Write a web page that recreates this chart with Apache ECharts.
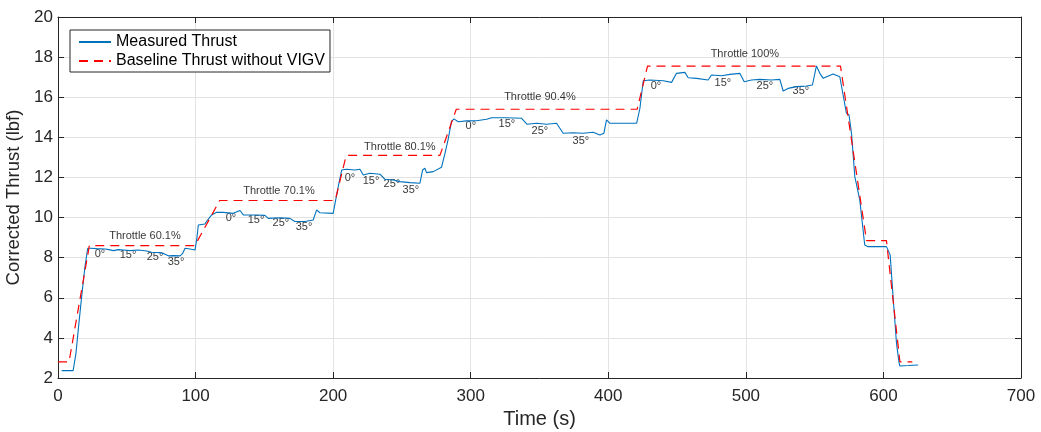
<!DOCTYPE html>
<html>
<head>
<meta charset="utf-8">
<script src="https://cdn.jsdelivr.net/npm/echarts@6/dist/echarts.min.js"></script>
<style>
html,body{margin:0;padding:0;background:#fff;}
#c{width:1041px;height:432px;}
</style>
</head>
<body>
<div id="c"></div>
<script>
// ---- Data ----
const measuredTime = [2.7,11,13,15,17.2,19.5,21.6,23.3,28,34.2,37,40.2,44,47.5,52.3,58.4,64.5,68,74.1,77,80.2,84,88.7,90.5,92.3,95.9,99.6,101,102,106.8,109,111.7,115.3,120.1,127.4,132.3,134.7,144.4,150.4,152.8,161.3,168.6,172.2,179.5,185.5,188,190.4,200,201.3,203.7,206.2,209.8,215.8,219.5,221.9,226.7,234,237.6,243.7,248.5,255.8,263.1,265,266.7,267.9,272.8,278.8,281.3,283.6,286,287.8,290.9,297,304.2,311.5,315.2,326,337,341,347.9,355.1,362.4,367.2,374.5,381.8,389,393.9,396.8,398.7,401.2,408.4,420.6,423,425.4,430.2,440,446,449.6,455.7,458.1,464.2,472.6,475,482.3,488.4,495.6,498.8,504.1,510.2,518.6,524.7,527.1,530.7,536.8,544.1,548.4,551.3,553.8,556.2,563.4,568.3,573.1,575,576.8,579.2,582.8,586.4,588.9,602.2,604.9,607,609.5,611.4,611.9,618,625.2];
const measuredThrust = [2.37,2.37,3.2,4.6,6.06,7.5,8.47,8.47,8.45,8.43,8.4,8.35,8.4,8.38,8.35,8.38,8.33,8.27,8.25,8.2,8.09,8.1,8.09,8.2,8.47,8.43,8.38,9.0,9.63,9.68,9.9,10.13,10.26,10.26,10.21,10.35,10.13,10.13,10.11,9.96,9.99,9.96,9.8,9.8,9.88,10.38,10.24,10.21,10.24,11.54,12.37,12.41,12.37,12.41,12.12,12.21,12.16,11.91,11.87,11.79,11.74,11.71,12.37,12.46,12.24,12.29,12.51,13.2,13.9,14.78,14.92,14.78,14.82,14.83,14.9,14.98,14.98,14.95,14.65,14.7,14.65,14.7,14.2,14.23,14.2,14.25,14.12,14.2,14.87,14.7,14.7,14.7,15.45,16.82,16.86,16.82,16.74,17.19,17.24,16.97,16.94,16.86,17.11,17.07,17.14,17.19,16.77,16.86,16.89,16.86,16.89,16.31,16.44,16.53,16.56,16.61,17.56,17.19,16.94,17.16,17.02,15.2,15.11,14.2,12.04,10.88,8.63,8.55,8.55,8.14,6.06,3.73,2.74,2.6,2.62,2.65];

const baselineTime   = [0,8,22.8,99.5,117.5,201.5,209.5,277.6,289.5,421,428.5,568.8,587.7,602.2,612,621];
const baselineThrust = [2.8,2.8,8.6,8.6,10.85,10.85,13.1,13.1,15.4,15.4,17.55,17.55,8.85,8.85,2.8,2.8];

const throttleLabels = ['Throttle 60.1%','Throttle 70.1%','Throttle 80.1%','Throttle 90.4%','Throttle 100%'];
const throttleLabelTime = [63.2,160.6,248.5,350.3,499.3];
const throttleLabelThrust = [9.08,11.33,13.52,16.01,18.16];

const angleLabels = ['0°','15°','25°','35°','0°','15°','25°','35°','0°','15°','25°','35°','0°','15°','25°','35°','0°','15°','25°','35°'];
const angleLabelTime = [30.5,50.9,70.5,85.8,125.7,143.9,162,178.8,212.2,227.5,242.7,256.5,300.1,326.3,350.3,380.1,434.6,483.3,513.8,540];
const angleLabelThrust = [8.19,8.14,8.04,7.79,9.98,9.88,9.73,9.53,11.97,11.82,11.67,11.38,14.57,14.67,14.32,13.82,16.56,16.71,16.56,16.31];

const xTicks = [0,100,200,300,400,500,600,700];
const yTicks = [2,4,6,8,10,12,14,16,18,20];

// ---- Build ----
const zip = (a,b) => a.map((v,i)=>[v,b[i]]);
const textData = (names,xs,ys) => names.map((n,i)=>({name:n,value:[xs[i],ys[i]]}));
const axisColor = '#262626';
const font = 'Liberation Sans, Arial, Helvetica, sans-serif';

const chart = echarts.init(document.getElementById('c'), null, {renderer:'canvas'});
chart.setOption({
  animation:false,
  backgroundColor:'#fff',
  textStyle:{fontFamily:font},
  grid:{left:58,right:20,top:17,bottom:54,containLabel:false,outerBoundsMode:'none'},
  xAxis:[{
    type:'value',min:xTicks[0],max:xTicks[xTicks.length-1],interval:100,
    name:'Time (s)',nameLocation:'middle',nameGap:30,
    nameTextStyle:{fontSize:20,color:axisColor,fontFamily:font},
    axisLine:{show:true,onZero:false,lineStyle:{color:axisColor,width:1}},
    axisTick:{show:true,inside:true,length:6,lineStyle:{color:axisColor}},
    axisLabel:{fontSize:17,color:axisColor,margin:10,fontFamily:font},
    splitLine:{show:true,lineStyle:{color:'#e3e3e3',width:1}}
  },{
    type:'value',position:'top',min:0,max:700,interval:100,
    axisLine:{show:true,onZero:false,lineStyle:{color:axisColor,width:1}},
    axisTick:{show:true,inside:true,length:6,lineStyle:{color:axisColor}},
    axisLabel:{show:false},splitLine:{show:false}
  }],
  yAxis:[{
    type:'value',min:yTicks[0],max:yTicks[yTicks.length-1],interval:2,
    name:'Corrected Thrust (lbf)',nameLocation:'middle',nameGap:27,nameRotate:90,
    nameTextStyle:{fontSize:18.5,color:axisColor,fontFamily:font},
    axisLine:{show:true,onZero:false,lineStyle:{color:axisColor,width:1}},
    axisTick:{show:true,inside:true,length:6,lineStyle:{color:axisColor}},
    axisLabel:{fontSize:17,color:axisColor,margin:5,fontFamily:font},
    splitLine:{show:true,lineStyle:{color:'#e3e3e3',width:1}}
  },{
    type:'value',position:'right',min:2,max:20,interval:2,
    axisLine:{show:true,onZero:false,lineStyle:{color:axisColor,width:1}},
    axisTick:{show:true,inside:true,length:6,lineStyle:{color:axisColor}},
    axisLabel:{show:false},splitLine:{show:false}
  }],
  legend:{
    data:['Measured Thrust','Baseline Thrust without VIGV'],
    orient:'vertical',left:70,top:30,
    backgroundColor:'#fff',borderColor:axisColor,borderWidth:1,borderRadius:0,
    padding:[4,5,3,8],itemGap:3,itemWidth:32,itemHeight:12,
    itemStyle:{opacity:0},
    textStyle:{fontSize:16,color:'#000',fontFamily:font}
  },
  series:[{
    name:'Measured Thrust',type:'line',data:zip(measuredTime,measuredThrust),
    symbol:'none',smooth:false,
    lineStyle:{color:'#0072BD',width:1.1},itemStyle:{color:'#0072BD'},z:3
  },{
    name:'Baseline Thrust without VIGV',type:'line',data:zip(baselineTime,baselineThrust),
    symbol:'none',
    lineStyle:{color:'#FF0000',width:1.2,type:[9,6]},itemStyle:{color:'#FF0000'},z:4
  },{
    name:'throttle',type:'scatter',symbolSize:0,silent:true,
    data:textData(throttleLabels,throttleLabelTime,throttleLabelThrust),
    label:{show:true,position:'inside',formatter:p=>p.name,fontSize:11,color:'#000',fontFamily:font}
  },{
    name:'angles',type:'scatter',symbolSize:0,silent:true,
    data:textData(angleLabels,angleLabelTime,angleLabelThrust),
    label:{show:true,position:'inside',formatter:p=>p.name,fontSize:11,color:'#000',fontFamily:font}
  }]
});
</script>
</body>
</html>
